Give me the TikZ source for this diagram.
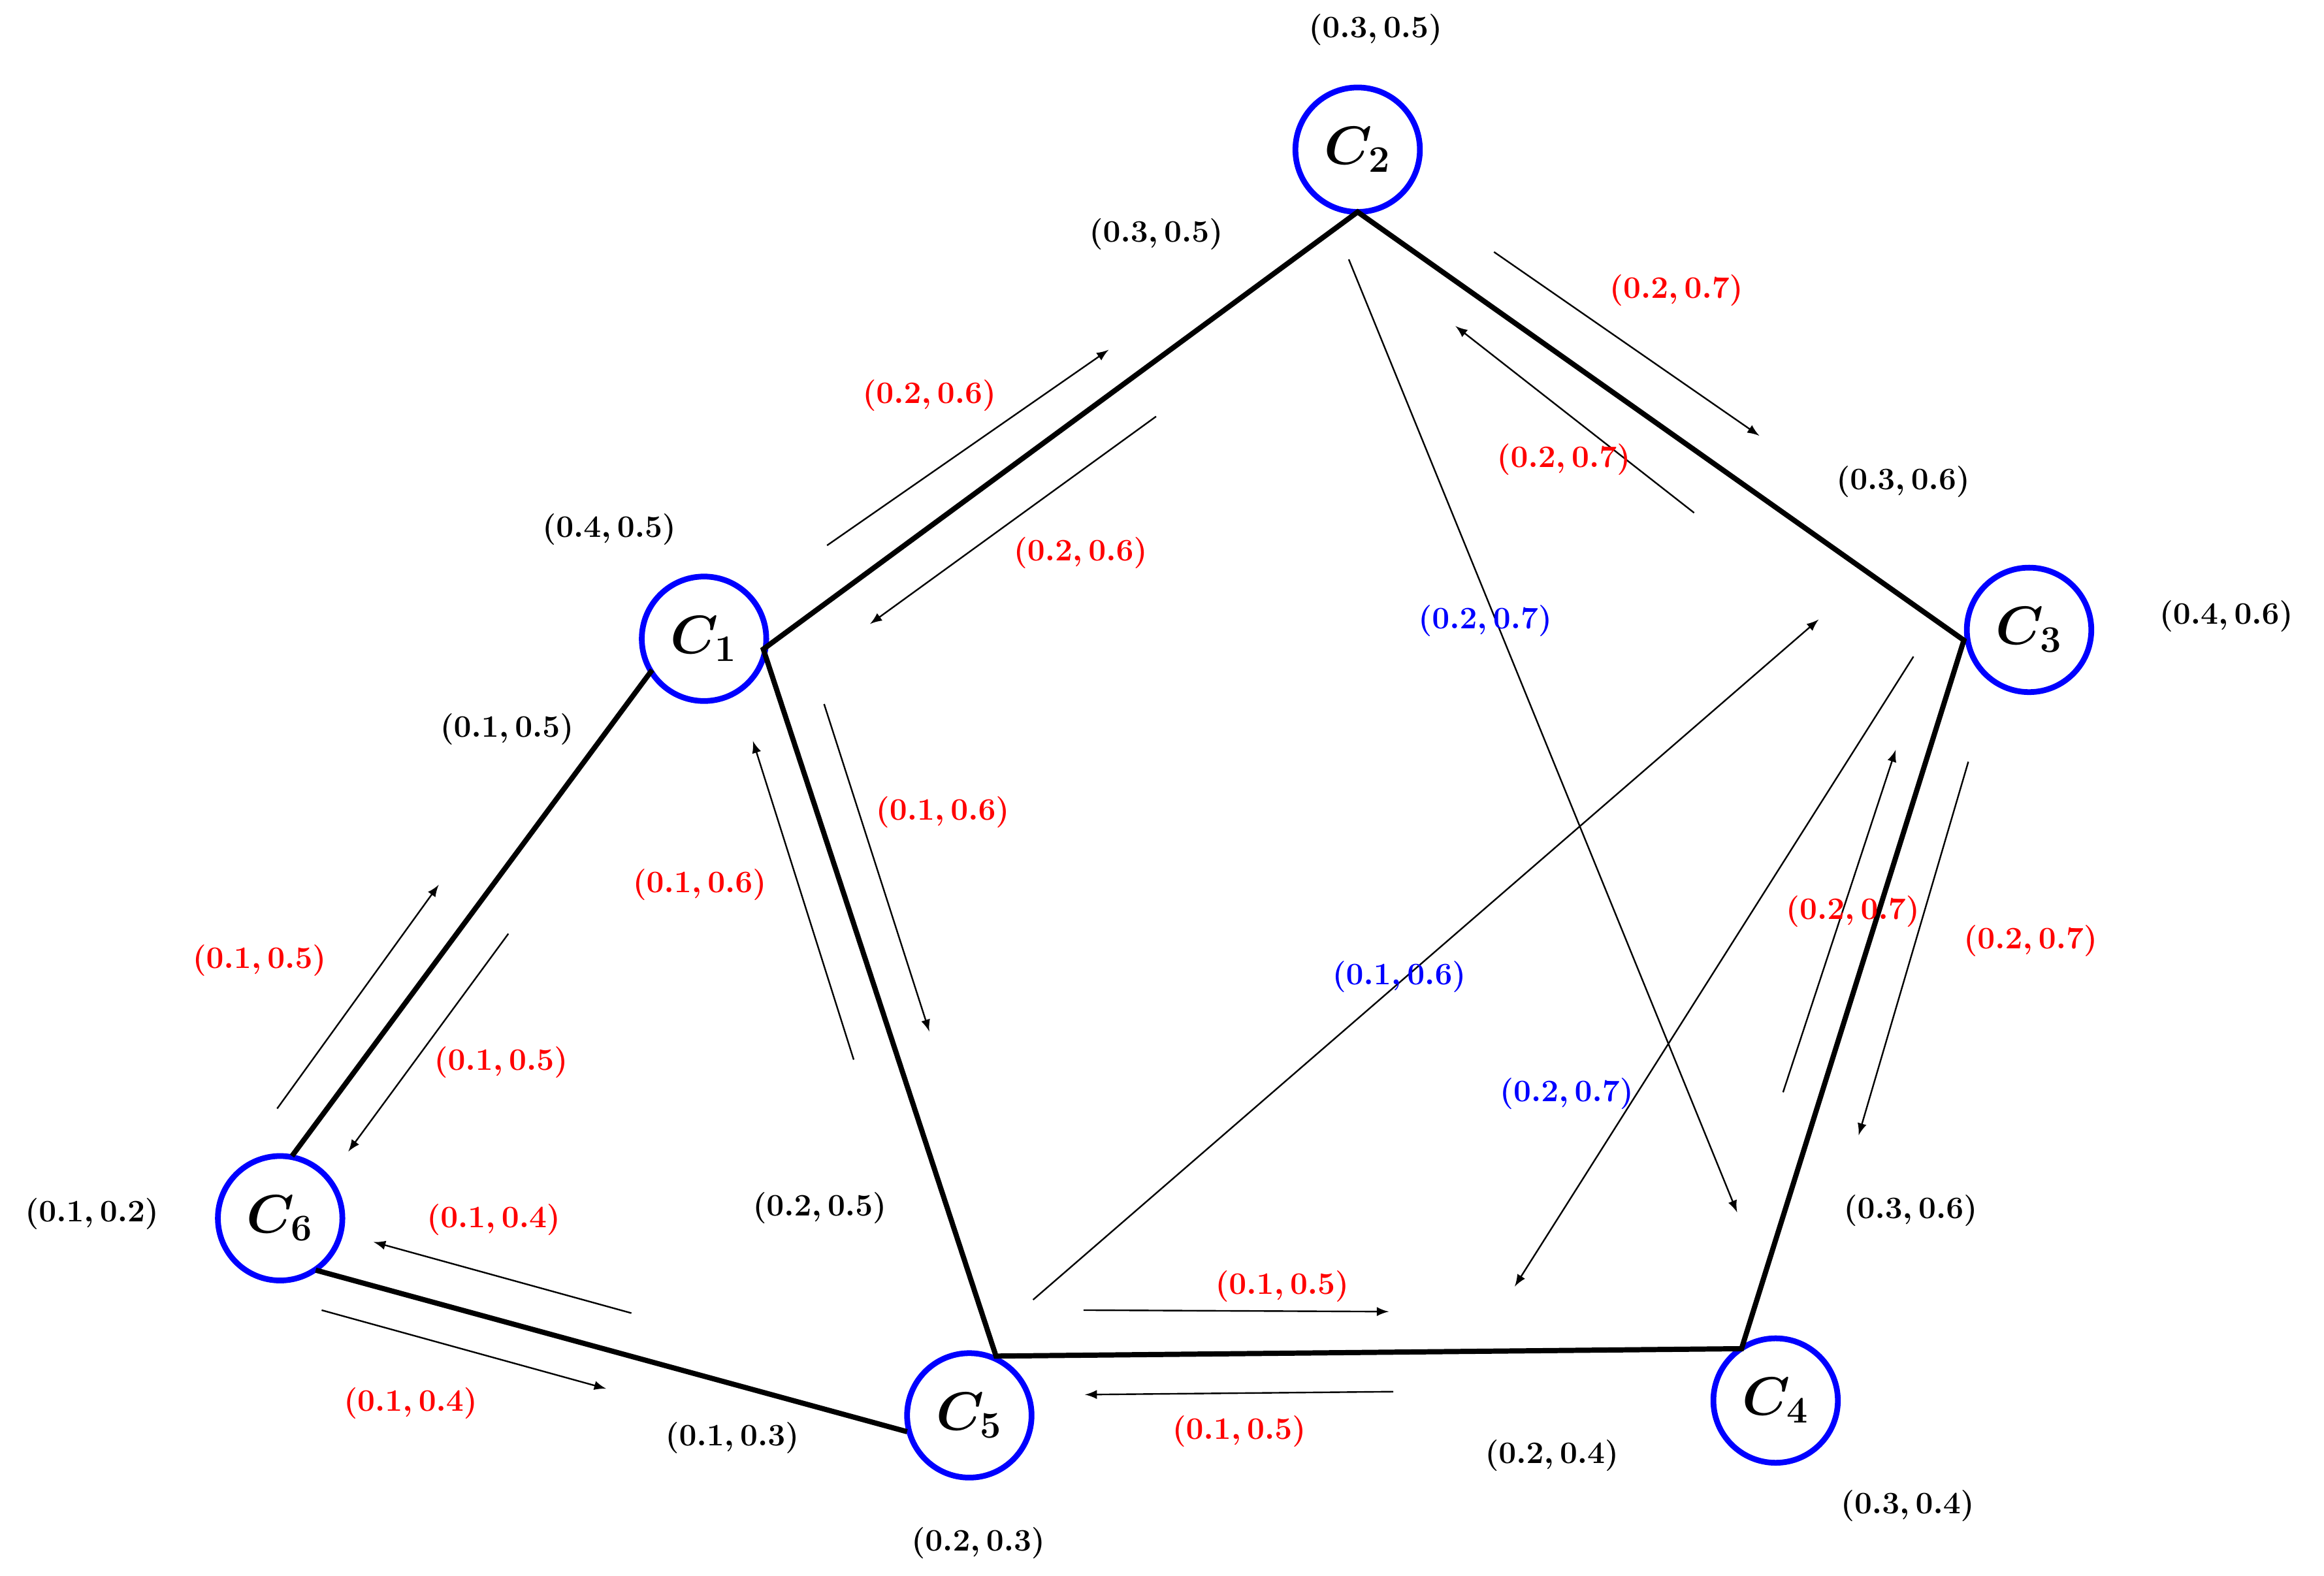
\documentclass[tikz,border=0pt]{standalone}
\usepackage{amsmath,bm}
\begin{document}
\begin{tikzpicture}[x=0.02cm,y=-0.02cm,
  cn/.style={circle,draw=blue,line width=2.2pt,minimum size=1.68cm,inner sep=0pt,font=\fontsize{22}{24}\selectfont\boldmath},
  edge/.style={line width=2pt},
  arr/.style={-latex,line width=0.6pt},
  lb/.style={font=\fontsize{13}{15}\selectfont\boldmath},
  rl/.style={lb,text=red},
  bl/.style={lb,text=blue}]
\useasboundingbox (0,0) rectangle (1568,1063);
\node[cn] (C1) at (475,431) {$C_1$};
\node[cn] (C2) at (916,101) {$C_2$};
\node[cn] (C3) at (1369,425) {$C_3$};
\node[cn] (C4) at (1198,945) {$C_4$};
\node[cn] (C5) at (654,955) {$C_5$};
\node[cn] (C6) at (189,822) {$C_6$};
\coordinate (P1) at (515,438);
\coordinate (P2) at (916,143);
\coordinate (P3) at (1325,432);
\coordinate (P4) at (1175,910);
\coordinate (P5) at (672,915);
\coordinate (Q1) at (440,452);
\coordinate (Q6) at (197,780);
\coordinate (R6) at (213,857);
\coordinate (R5) at (612,966);
\draw[edge] (P1)--(P2)--(P3)--(P4)--(P5)--cycle;
\draw[edge] (Q1)--(Q6);
\draw[edge] (R6)--(R5);
% thin arrows
\foreach \a/\b/\c/\d in {558/368/748/236, 780/281/587/421, 1008/170/1187/294, 1143/346/982/220,
  910/175/1172/818, 697/877/1227/418, 1291/443/1022/868, 1203/737/1279/506, 1328/514/1254/766,
  731/884/937/885, 940/939/732/941, 556/475/627/696, 576/715/508/500, 187/748/296/597,
  343/630/235/777, 426/886/252/838, 217/884/409/937}
  {\coordinate (s) at (\a,\b); \coordinate (e) at (\c,\d); \draw[arr] (s)--(e);}
% red labels
\node[rl] (r1) at (627,267) {$(0.2,0.6)$};
\node[rl] (r2) at (729,373) {$(0.2,0.6)$};
\node[rl] (r3) at (1131,196) {$(0.2,0.7)$};
\node[rl] (r4) at (1055,310) {$(0.2,0.7)$};
\node[rl] (r5) at (1250,615) {$(0.2,0.7)$};
\node[rl] (r6) at (1370,635) {$(0.2,0.7)$};
\node[rl] (r7) at (865,868) {$(0.1,0.5)$};
\node[rl] (r8) at (836,966) {$(0.1,0.5)$};
\node[rl] (r9) at (636,548) {$(0.1,0.6)$};
\node[rl] (r10) at (472,597) {$(0.1,0.6)$};
\node[rl] (r11) at (175,648) {$(0.1,0.5)$};
\node[rl] (r12) at (338,717) {$(0.1,0.5)$};
\node[rl] (r13) at (333,823) {$(0.1,0.4)$};
\node[rl] (r14) at (277,947) {$(0.1,0.4)$};
% blue labels
\node[bl] (b1) at (1002,419) {$(0.2,0.7)$};
\node[bl] (b2) at (944,659) {$(0.1,0.6)$};
\node[bl] (b3) at (1057,738) {$(0.2,0.7)$};
% black labels
\node[lb] (k1) at (928,20) {$(0.3,0.5)$};
\node[lb] (k2) at (780,158) {$(0.3,0.5)$};
\node[lb] (k3) at (1284,325) {$(0.3,0.6)$};
\node[lb] (k4) at (1502,416) {$(0.4,0.6)$};
\node[lb] (k5) at (411,357) {$(0.4,0.5)$};
\node[lb] (k6) at (342,492) {$(0.1,0.5)$};
\node[lb] (k7) at (62,819) {$(0.1,0.2)$};
\node[lb] (k8) at (553,815) {$(0.2,0.5)$};
\node[lb] (k9) at (494,970) {$(0.1,0.3)$};
\node[lb] (k10) at (660,1041) {$(0.2,0.3)$};
\node[lb] (k11) at (1047,982) {$(0.2,0.4)$};
\node[lb] (k12) at (1287,1016) {$(0.3,0.4)$};
\node[lb] (k13) at (1289,817) {$(0.3,0.6)$};
\end{tikzpicture}
\end{document}
